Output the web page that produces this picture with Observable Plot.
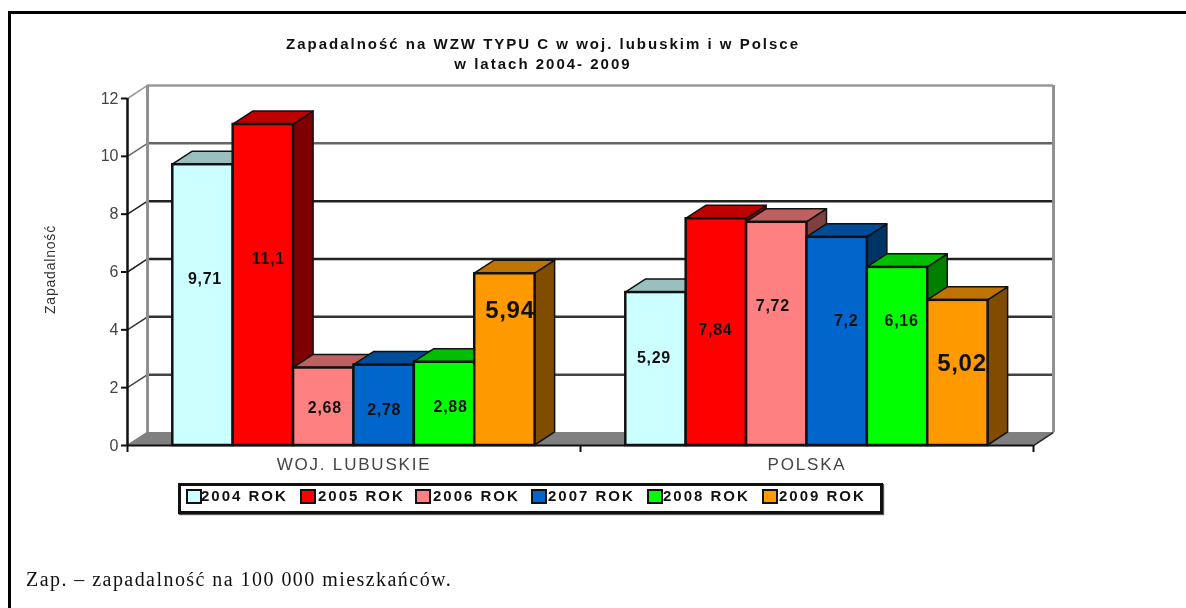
<!DOCTYPE html>
<html lang="pl">
<head>
<meta charset="utf-8">
<script src="https://cdn.jsdelivr.net/npm/d3@7"></script>
<script src="https://cdn.jsdelivr.net/npm/@observablehq/plot@0.6"></script>
<style>
html,body{margin:0;padding:0;background:#fff;width:1186px;height:608px;overflow:hidden}
#page{position:relative;width:1186px;height:608px;filter:blur(0.6px)}
#page svg{position:absolute;left:0;top:0;overflow:visible}
.frame{position:absolute;background:#000}
.title{position:absolute;left:243px;width:600px;text-align:center;font:bold 15px "Liberation Sans",sans-serif;letter-spacing:2px;color:#111;white-space:nowrap;line-height:16px}
.caption{position:absolute;left:26px;top:568px;font:20px "Liberation Serif",serif;letter-spacing:1.45px;color:#111;white-space:nowrap}
.legend{position:absolute;left:178px;top:483px;width:699px;height:25px;border:3px solid #111;box-shadow:1px 1px 1px #555;background:#fff}
.sw{position:absolute;top:3px;width:12px;height:11px;border:2px solid #111}
.lt{position:absolute;top:2px;font:bold 15px "Liberation Sans",sans-serif;letter-spacing:2px;color:#111;white-space:nowrap;line-height:16px}
.cat text{letter-spacing:1.8px}
.val text{letter-spacing:.7px}
</style>
</head>
<body>
<div id="page"></div>
<script>
// Data
const categories = ["WOJ. LUBUSKIE", "POLSKA"];
const years = ["2004 ROK", "2005 ROK", "2006 ROK", "2007 ROK", "2008 ROK", "2009 ROK"];
const values2004 = [9.71, 5.29];
const values2005 = [11.1, 7.84];
const values2006 = [2.68, 7.72];
const values2007 = [2.78, 7.2];
const values2008 = [2.88, 6.16];
const values2009 = [5.94, 5.02];
const seriesValues = [values2004, values2005, values2006, values2007, values2008, values2009];
const yTicks = [0, 2, 4, 6, 8, 10, 12];

// Styles
const frontColors = ["#CCFFFF", "#FF0000", "#FF8080", "#0066CC", "#00FF00", "#FF9900"];
const topColors = ["#99BFBF", "#BF0000", "#BF6060", "#004C99", "#00BF00", "#BF7300"];
const sideColors = ["#668080", "#7F0000", "#7F4040", "#003366", "#007F00", "#7F4C00"];
const gridColors = ["#808080", "#444", "#333", "#222", "#222", "#666", "#999"];

// Layout (in axis units, and hand-placed value labels in pixels)
const depthX = 0.0442, depthY = 0.45, gap = 0.1, barW = 0.1333;
const labelShiftX = [[2, -2], [5, -1], [1, -4], [0, 9], [6, 4], [5, 4]];
const labelPixelY = [[278, 357], [258, 329], [407, 305], [409, 320], [406, 320], [310, 363]];
const labelSize = [[16, 16], [16, 16], [16, 16], [16, 16], [16, 16], [24, 24]];
const legendSwatchX = [5, 119, 234, 350, 466, 581];
const legendTextX = [20, 137, 252, 367, 482, 598];

const pxPerUnit = 28.92;
const bars = categories.flatMap((cat, c) => years.map((yr, s) => ({
  id: `${c}-${s}`, cat, yr, v: seriesValues[s][c],
  x1: c + gap + s * barW, x2: c + gap + (s + 1) * barW,
  front: frontColors[s], top: topColors[s], side: sideColors[s],
  label: String(seriesValues[s][c]).replace(".", ","),
  lx: c + gap + (s + 0.5) * barW + labelShiftX[s][c] / 453,
  ly: (445 - labelPixelY[s][c]) / pxPerUnit,
  size: labelSize[s][c]
})));
const sideFaces = bars.flatMap(b => [
  {id: b.id, c: b.side, x: b.x2, y1: 0, y2: b.v},
  {id: b.id, c: b.side, x: b.x2 + depthX, y1: depthY, y2: b.v + depthY}
]);
const topFaces = bars.flatMap(b => [
  {id: b.id, c: b.top, y: b.v, x1: b.x1, x2: b.x2},
  {id: b.id, c: b.top, y: b.v + depthY, x1: b.x1 + depthX, x2: b.x2 + depthX}
]);
const floor = [
  {y: 0, x1: 0, x2: 2},
  {y: depthY, x1: depthX, x2: 2 + depthX}
];
const grid = yTicks.map((v, i) => ({v, stroke: gridColors[i]}));

const chart = Plot.plot({
  width: 1186, height: 608,
  marginLeft: 127, marginRight: 153, marginTop: 98, marginBottom: 163,
  style: {background: "transparent", overflow: "visible"},
  x: {domain: [0, 2], label: null},
  y: {domain: [0, 12], label: null},
  marks: [
    Plot.areaX(floor, {y: "y", x1: "x1", x2: "x2", fill: "#808080"}),
    Plot.link(grid, {x1: 0, x2: depthX, y1: "v", y2: d => d.v + depthY, stroke: "stroke", strokeWidth: 1.5}),
    Plot.link([0], {x1: 2, x2: 2 + depthX, y1: 0, y2: depthY, stroke: "#222", strokeWidth: 1.5}),
    Plot.ruleY(grid.slice(1), {y: d => d.v + depthY, x1: depthX, x2: 2 + depthX, stroke: "stroke", strokeWidth: 2.5}),
    Plot.ruleX([depthX, 2 + depthX], {y1: depthY, y2: 12 + depthY, stroke: "#909090", strokeWidth: 3}),
    Plot.ruleY([0], {x1: 0, x2: 2, stroke: "#111", strokeWidth: 2}),
    Plot.axisY({ticks: yTicks, tickSize: 6, tickPadding: 3, fontSize: 16, stroke: "#111", strokeWidth: 2, color: "#444", fontFamily: "Liberation Sans", label: null}),
    Plot.ruleX([0], {y1: 0, y2: 12, stroke: "#111", strokeWidth: 2.5}),
    Plot.axisX({ticks: [0, 1, 2], tickSize: 7, stroke: "#111", strokeWidth: 2, tickFormat: () => "", label: null}),
    Plot.text(categories, {className: "cat", x: (d, i) => i + 0.5, y: 0, dy: 19, text: d => d, fontSize: 17, fontFamily: "Liberation Sans", fill: "#444"}),
    Plot.areaY(sideFaces, {x: "x", y1: "y1", y2: "y2", z: "id", fill: "c", stroke: "#111", strokeWidth: 1.5}),
    Plot.areaX(topFaces, {y: "y", x1: "x1", x2: "x2", z: "id", fill: "c", stroke: "#111", strokeWidth: 1.5}),
    Plot.rect(bars, {x1: "x1", x2: "x2", y1: 0, y2: "v", fill: "front", stroke: "#111", strokeWidth: 2.5}),
    Plot.text(bars, {className: "val", x: "lx", y: "ly", text: "label", fontSize: "size", fontWeight: "bold", fontFamily: "Liberation Sans", fill: "#111"})
  ]
});
const page = document.getElementById("page");
page.appendChild(chart);

function add(cls, text, style) {
  const el = document.createElement("div");
  el.className = cls;
  if (text) el.textContent = text;
  if (style) el.setAttribute("style", style);
  return el;
}
page.appendChild(add("frame", "", "left:8px;top:11px;width:1178px;height:3px"));
page.appendChild(add("frame", "", "left:8px;top:11px;width:3px;height:597px"));
page.appendChild(add("title", "Zapadalność na WZW TYPU C w woj. lubuskim i w Polsce", "top:36px"));
page.appendChild(add("title", "w latach 2004- 2009", "top:56px"));
page.appendChild(add("lt", "Zapadalność", "font-weight:normal;font-size:14px;letter-spacing:.8px;left:8px;top:264px;width:84px;text-align:center;transform:rotate(-90deg);color:#333"));
page.appendChild(add("caption", "Zap. – zapadalność na 100 000 mieszkańców."));
const legend = add("legend");
years.forEach((y, i) => {
  legend.appendChild(add("sw", "", `left:${legendSwatchX[i]}px;background:${frontColors[i]}`));
  legend.appendChild(add("lt", y, `left:${legendTextX[i]}px`));
});
page.appendChild(legend);
</script>
</body>
</html>
